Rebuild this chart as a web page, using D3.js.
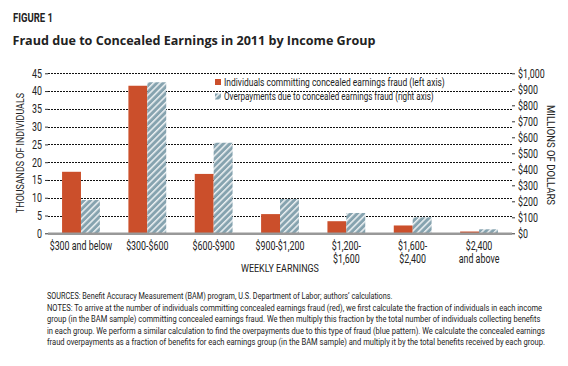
<!DOCTYPE html>
<html><head><meta charset="utf-8">
<script src="https://cdn.jsdelivr.net/npm/d3@7"></script>
<style>
html,body{margin:0;padding:0;background:#fff;}
text{font-family:Roboto,"Liberation Sans",sans-serif;fill:#222;}
</style></head>
<body>
<svg id="c" width="568" height="366"></svg>
<script>
const categories = ["$300 and below","$300-$600","$600-$900","$900-$1,200","$1,200-$1,600","$1,600-$2,400","$2,400 and above"];
const categoryLines = [["$300 and below"],["$300-$600"],["$600-$900"],["$900-$1,200"],["$1,200-","$1,600"],["$1,600-","$2,400"],["$2,400","and above"]];
const individuals = [17.3, 41.5, 16.7, 5.4, 3.4, 2.2, 0.5];      // thousands (left axis)
const overpayments = [208, 944, 566, 214, 127, 100, 25];          // $ millions (right axis)
const leftTicks = [0,5,10,15,20,25,30,35,40,45];
const rightTicks = [0,100,200,300,400,500,600,700,800,900,1000];
const legendLabels = ["Individuals committing concealed earnings fraud (left axis)","Overpayments due to concealed earnings fraud (right axis)"];
const notes = [
 "SOURCES: Benefit Accuracy Measurement (BAM) program, U.S. Department of Labor; authors\u2019 calculations.",
 "NOTES:  To arrive at the number of individuals committing concealed earnings fraud (red), we first calculate the fraction of individuals in each income",
 "group (in the BAM sample) committing concealed earnings fraud.  We then multiply this fraction by the total number of individuals collecting benefits",
 "in each group.  We perform a similar calculation to find the overpayments due to this type of fraud (blue pattern).  We calculate the concealed earnings",
 "fraud overpayments as a fraction of benefits for each earnings group (in the BAM sample) and multiply it by the total benefits received by each group."
];

const svg = d3.select("#c");
const red = "#CB4F2B", blue = "#86A3AF";
const COND = 0.74;

// horizontally condense a text element around its anchor x
function condense(sel, f) {
  sel.each(function(){
    const el = d3.select(this);
    const ax = +el.attr("x") || 0;
    const prev = el.attr("transform") || "";
    el.attr("transform", `${prev} translate(${ax},0) scale(${f},1) translate(${-ax},0)`);
  });
}
// condense so that the text reaches a given width
function fitWidth(sel, widthFn) {
  sel.each(function(d,i){
    const w = this.getComputedTextLength();
    condense(d3.select(this), widthFn(d,i)/w);
  });
}

const defs = svg.append("defs");
const pat = defs.append("pattern").attr("id","hatch").attr("patternUnits","userSpaceOnUse")
  .attr("width",4.5).attr("height",4.5).attr("patternTransform","rotate(45)");
pat.append("rect").attr("width",4.5).attr("height",4.5).attr("fill",blue);
pat.append("rect").attr("x",0).attr("width",1.5).attr("height",4.5).attr("fill","#fff").attr("opacity",0.85);

// title
const fig = svg.append("text").attr("x",13).attr("y",22.5).text("FIGURE 1")
  .style("font-weight","bold").style("font-size","13px");
fitWidth(fig, ()=>40);
const ttl = svg.append("text").attr("x",12.5).attr("y",45).text("Fraud due to Concealed Earnings in 2011 by Income Group")
  .style("font-family","'Open Sans','DejaVu Sans',sans-serif").style("font-weight","bold").style("font-size","12.8px");
fitWidth(ttl, ()=>363);

const x0 = 48, x1 = 512;
const x = d3.scaleBand().domain(categories).range([47.8, 512.2]).paddingInner(0).paddingOuter(0);
const yL = d3.scaleLinear().domain([0,45]).range([233.3,73.3]);
const yR = d3.scaleLinear().domain([0,1000]).range([233.3,73.3]);
const bw = x.bandwidth()*0.285;

// gridlines
svg.append("g").selectAll("line").data(leftTicks.filter(d=>d>0)).join("line")
  .attr("x1",x0).attr("x2",x1).attr("y1",d=>Math.round(yL(d))+0.5).attr("y2",d=>Math.round(yL(d))+0.5)
  .attr("stroke","#111").attr("stroke-width",1).attr("stroke-dasharray","2,1");

// left axis
const gl = svg.append("g").attr("transform",`translate(${x0},0)`)
  .call(d3.axisLeft(yL).tickValues(leftTicks).tickSize(3).tickPadding(3));
gl.select(".domain").remove();
gl.selectAll("line").attr("stroke","#333");
gl.selectAll("text").style("font-size","12px").style("font-family","Roboto,sans-serif").attr("fill","#333");
condense(gl.selectAll("text"), COND);

// right axis
const gr = svg.append("g").attr("transform",`translate(${x1},0)`)
  .call(d3.axisRight(yR).tickValues(rightTicks).tickSize(3).tickPadding(3).tickFormat(d=>"$"+d3.format(",")(d)));
gr.select(".domain").remove();
gr.selectAll("line").attr("stroke","#333");
gr.selectAll("text").style("font-size","12px").style("font-family","Roboto,sans-serif").attr("fill","#333");
condense(gr.selectAll("text"), COND);

// bars
const g = svg.append("g");
g.selectAll("rect.r").data(categories).join("rect").attr("class","r")
  .attr("x",d=>x(d)+x.bandwidth()/2-bw).attr("width",bw)
  .attr("y",(d,i)=>yL(individuals[i])).attr("height",(d,i)=>yL(0)-yL(individuals[i]))
  .attr("fill",red);
g.selectAll("rect.b").data(categories).join("rect").attr("class","b")
  .attr("x",d=>x(d)+x.bandwidth()/2).attr("width",bw)
  .attr("y",(d,i)=>yR(overpayments[i])).attr("height",(d,i)=>yR(0)-yR(overpayments[i]))
  .attr("fill","url(#hatch)");

// baseline
svg.append("line").attr("x1",x0).attr("x2",x1).attr("y1",yL(0)+0.5).attr("y2",yL(0)+0.5)
  .attr("stroke","#999").attr("stroke-width",2.5);

// x labels
const xl = svg.append("g");
categories.forEach((c,i)=>{
  const cx = x(c)+x.bandwidth()/2;
  categoryLines[i].forEach((ln,j)=>{
    xl.append("text").attr("x",cx).attr("y",250+j*13.5).attr("text-anchor","middle")
      .style("font-size","12px").attr("fill","#222").text(ln);
  });
});
condense(xl.selectAll("text"), COND);
const we = svg.append("text").attr("x",280).attr("y",272.5).attr("text-anchor","middle").text("WEEKLY EARNINGS")
  .style("font-size","11px");
fitWidth(we, ()=>78);

// axis titles
const lt = svg.append("text").attr("transform","translate(24,153) rotate(-90)").attr("x",0).attr("y",0)
  .attr("text-anchor","middle").text("THOUSANDS OF INDIVIDUALS").style("font-size","11px");
fitWidth(lt, ()=>120);
const rt = svg.append("text").attr("transform","translate(547,155) rotate(90)").attr("x",0).attr("y",0)
  .attr("text-anchor","middle").text("MILLIONS OF DOLLARS").style("font-size","11px");
fitWidth(rt, ()=>100);

// legend
const lg = svg.append("g");
[red,"url(#hatch)"].forEach((f,i)=>{
  lg.append("rect").attr("x",215).attr("y",79+i*14.5).attr("width",6).attr("height",6).attr("fill",f);
});
const lgt = lg.selectAll("text").data(legendLabels).join("text")
  .attr("x",224).attr("y",(d,i)=>86+i*14.5).text(d=>d).style("font-size","11px");
fitWidth(lgt, (d,i)=>i?210:221);

// notes
const noteW = [346, 496, 494, 498, 498];
const nt = svg.append("g").selectAll("text").data(notes).join("text")
  .attr("x",47).attr("y",(d,i)=>299.5+i*11.5).text(d=>d)
  .style("font-size","9.5px").attr("fill","#222");
fitWidth(nt, (d,i)=>noteW[i]);
</script>
</body></html>
